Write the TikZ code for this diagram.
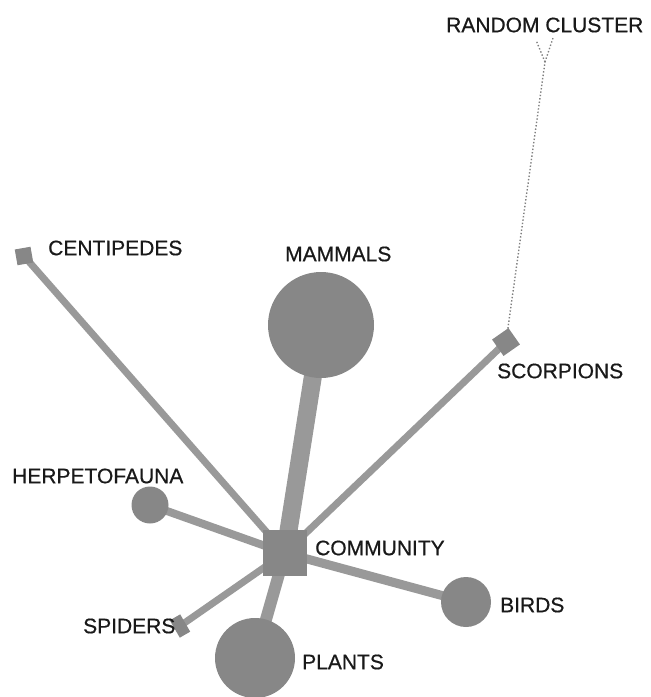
\documentclass[tikz,border=0pt]{standalone}
\usepackage{fontspec}
\setmainfont{Liberation Sans}
\newfontfamily\lblfont{Liberation Sans}[FakeBold=0.6]
\usetikzlibrary{positioning,backgrounds}

\begin{document}
\begin{tikzpicture}[x=1pt, y=-1pt,
    blob/.style={circle, fill=black!47, inner sep=0pt},
    sqblob/.style={rectangle, fill=black!47, inner sep=0pt},
    lbl/.style={anchor=west, inner sep=0pt, text=black!90, font=\lblfont\fontsize{21}{21}\selectfont},
    link/.style={black!40, line cap=butt},
    faint/.style={black!50, line width=1.4pt, dotted}
]
\useasboundingbox (0,0) rectangle (651,697);
\node[sqblob, minimum width=44pt, minimum height=46pt] (C) at (285,553) {};
\node[blob, minimum size=106pt] (M) at (321,325) {};
\node[blob, minimum size=80pt] (P) at (255,658) {};
\node[blob, minimum size=50pt] (B) at (466,602) {};
\node[blob, minimum size=37pt] (H) at (150,505) {};
\node[sqblob, minimum size=16pt, rotate=10] (Ce) at (24,256) {};
\node[sqblob, minimum size=20pt, rotate=35] (S) at (506,342) {};
\node[sqblob, minimum width=12pt, minimum height=20pt, rotate=30] (Sp) at (180,626) {};
\coordinate (R) at (545,62);
\coordinate (Ra) at (536,40);
\coordinate (Rb) at (553,38);

\begin{scope}[on background layer]
\draw[link, line width=18pt] (C.center) -- (M.center);
\draw[link, line width=12pt] (C.center) -- (P.center);
\draw[link, line width=7pt] (C.center) -- (Ce.center);
\draw[link, line width=7pt] (C.center) -- (S.center);
\draw[link, line width=8pt] (C.center) -- (H.center);
\draw[link, line width=9pt] (C.center) -- (B.center);
\draw[link, line width=7pt] (C.center) -- (Sp.center);
\draw[faint] (S.center) -- (R);
\draw[faint] (R) -- (Ra);
\draw[faint] (R) -- (Rb);
\end{scope}

\node[lbl] (lR) at (446,25) {RANDOM CLUSTER};
\node[lbl] (lCe) at (48,248) {CENTIPEDES};
\node[lbl] (lM) at (285,254) {MAMMALS};
\node[lbl] (lS) at (497,371) {SCORPIONS};
\node[lbl] (lH) at (12,476) {HERPETOFAUNA};
\node[lbl] (lC) at (315,548) {COMMUNITY};
\node[lbl] (lB) at (500,605) {BIRDS};
\node[lbl] (lSp) at (83,626) {SPIDERS};
\node[lbl] (lP) at (302,662) {PLANTS};
\end{tikzpicture}
\end{document}
